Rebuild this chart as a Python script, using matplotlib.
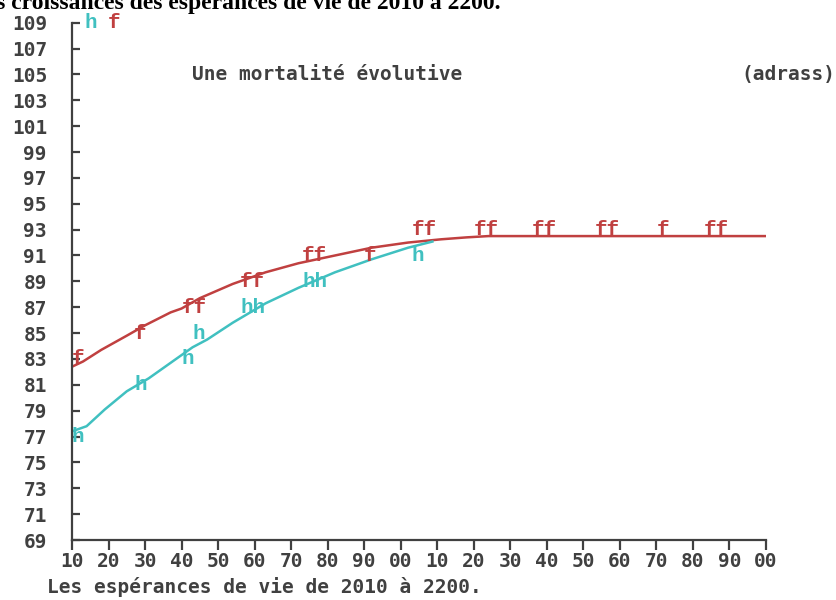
import matplotlib
matplotlib.use("Agg")
import matplotlib.pyplot as plt

# courbes
years_f = [2010, 2013, 2018, 2025, 2030, 2037, 2040, 2045, 2054, 2063, 2072,
           2082, 2092, 2102, 2111, 2118, 2124, 2200]
vals_f = [82.4, 82.8, 83.7, 84.8, 85.6, 86.6, 86.9, 87.7, 88.8, 89.7, 90.4,
          91.0, 91.6, 92.0, 92.25, 92.4, 92.5, 92.5]

years_h = [2010, 2014, 2019, 2025, 2031, 2037, 2043, 2047, 2054, 2063, 2072,
           2082, 2092, 2102, 2109]
vals_h = [77.4, 77.8, 79.1, 80.5, 81.5, 82.7, 83.9, 84.5, 85.8, 87.3, 88.5,
          89.7, 90.7, 91.6, 92.1]

# symboles texte (lettres posees sur la grille de caracteres)
mark_years_f = [2010, 2027, 2040, 2056, 2073, 2090, 2103, 2120, 2136, 2153,
                2170, 2183]
mark_vals_f = [83, 85, 87, 89, 91, 91, 93, 93, 93, 93, 93, 93]
mark_text_f = ["f", "f", "ff", "ff", "ff", "f", "ff", "ff", "ff", "ff",
               "f", "ff"]
mark_years_h = [2010, 2027, 2040, 2043, 2056, 2073, 2103]
mark_vals_h = [77, 81, 83, 85, 87, 89, 91]
mark_text_h = ["h", "h", "h", "h", "hh", "hh", "h"]

x_ticks = list(range(2010, 2201, 10))
y_ticks = list(range(69, 110, 2))

red = "#c04040"
cyan = "#40c0c0"
grey = "#404040"
mono = "DejaVu Sans Mono"
serif_mono = "Liberation Mono"

fig = plt.figure(figsize=(8.36, 6), dpi=100)
ax = fig.add_axes([72 / 836, 60 / 600, 694 / 836, 517.3 / 600])

ax.plot(years_f, vals_f, color=red, lw=1.8, solid_capstyle="butt")
ax.plot(years_h, vals_h, color=cyan, lw=1.8, solid_capstyle="butt")

for x, y, t in zip(mark_years_f, mark_vals_f, mark_text_f):
    ax.text(x, y, t, color=red, family=serif_mono, weight="bold",
            fontsize=15, ha="left", va="center")
for x, y, t in zip(mark_years_h, mark_vals_h, mark_text_h):
    ax.text(x, y, t, color=cyan, family=serif_mono, weight="bold",
            fontsize=15, ha="left", va="center")

# legende en haut
ax.text(2013.3, 109, "h", color=cyan, family=serif_mono, weight="bold",
        fontsize=15, ha="left", va="center", clip_on=False)
ax.text(2019.9, 109, "f", color=red, family=serif_mono, weight="bold",
        fontsize=15, ha="left", va="center", clip_on=False)

ax.text(2042.9, 105, "Une mortalité évolutive", color=grey, family=mono,
        weight="bold", fontsize=14, ha="left", va="center", clip_on=False)
ax.text(2193.2, 105, "(adrass)", color=grey, family=mono,
        weight="bold", fontsize=14, ha="left", va="center", clip_on=False)

ax.set_xlim(2010, 2200)
ax.set_ylim(69, 109)
ax.set_xticks(x_ticks)
ax.set_xticklabels([f"{y % 100:02d}" for y in x_ticks])
ax.set_yticks(y_ticks)
ax.set_yticklabels([str(v) for v in y_ticks])

for s in ["top", "right"]:
    ax.spines[s].set_visible(False)
for s in ["left", "bottom"]:
    ax.spines[s].set_color(grey)
    ax.spines[s].set_linewidth(1.6)

ax.tick_params(axis="y", direction="in", length=6, width=1.6, color=grey,
               pad=18, labelcolor=grey)
ax.tick_params(axis="x", direction="out", length=7.5, width=1.6, color=grey,
               pad=1, labelcolor=grey)
for lab in ax.get_xticklabels() + ax.get_yticklabels():
    lab.set_family(mono)
    lab.set_weight("bold")
    lab.set_fontsize(14)

fig.text(47 / 836, 1 - 587 / 600, "Les espérances de vie de 2010 à 2200.",
         color=grey, family=mono, weight="bold", fontsize=14,
         ha="left", va="center")

# titre coupe en haut a gauche, comme sur l'original
fig.text(500 / 836, 1 - 9 / 600,
         "Les croissances des espérances de vie de 2010 à 2200.",
         family="Liberation Serif", weight="bold", fontsize=17,
         ha="right", va="baseline")

fig.savefig("out.png", dpi=100)
